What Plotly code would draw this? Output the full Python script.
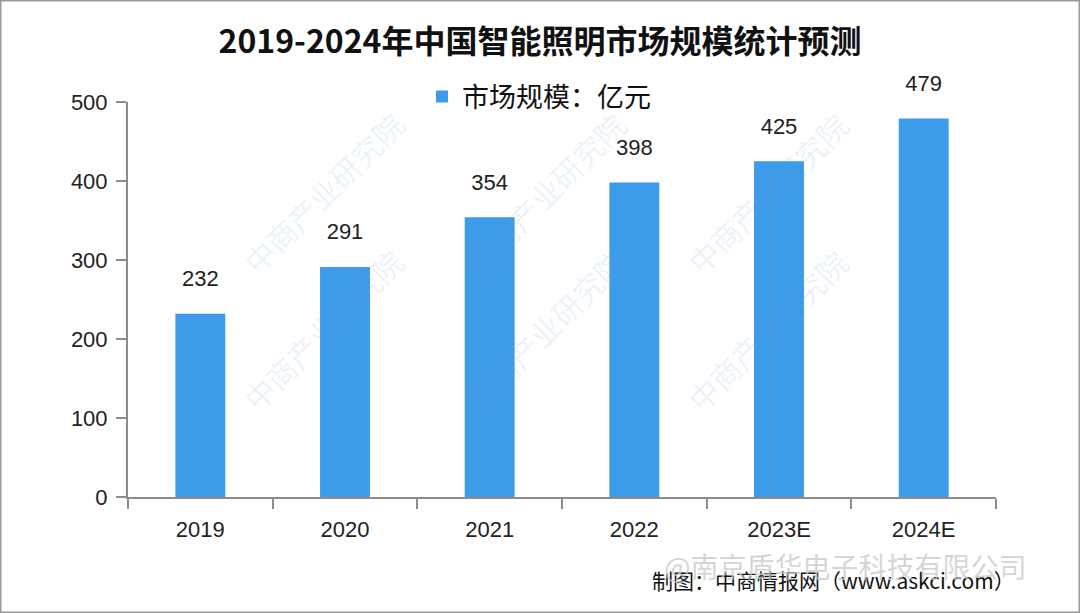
import plotly.graph_objects as go

categories = ["2019", "2020", "2021", "2022", "2023E", "2024E"]
values = [232, 291, 354, 398, 425, 479]
series_name = "市场规模：亿元"
title_text = "2019-2024年中国智能照明市场规模统计预测"
source_text = "制图：中商情报网（www.askci.com）"
overlay_text = "@南京盾华电子科技有限公司"
watermark_text = "中商产业研究院"

BAR_COLOR = "#3D9BE9"
FONT = "Liberation Sans, Noto Sans CJK SC, sans-serif"
CJK = "Noto Sans CJK SC, sans-serif"

PL, PR, PT, PB = 128, 996, 102, 497
PW, PH = PR - PL, PB - PT


def px(x):
    return (x - PL) / PW


def py(y):
    return (PB - y) / PH


fig = go.Figure()
fig.add_trace(go.Bar(
    x=categories, y=values, name=series_name,
    marker=dict(color=BAR_COLOR, line=dict(width=0)),
    width=0.345,
))
# value labels, lifted above the bars by an invisible marker
fig.add_trace(go.Scatter(
    x=categories, y=values, mode="markers+text", showlegend=False,
    marker=dict(size=34, opacity=0), hoverinfo="skip",
    text=[str(v) for v in values], textposition="top center",
    textfont=dict(size=22, color="#222222", family=FONT),
    cliponaxis=False,
))

annotations = []
# faint diagonal watermarks
for (x, y) in [(230, 100), (230, 330), (545, 100), (545, 330), (860, 100), (860, 330)]:
    annotations.append(dict(
        xref="paper", yref="paper", x=px(x), y=py(y),
        text=watermark_text, showarrow=False, textangle=-45,
        font=dict(size=30, color="rgba(90,150,215,0.12)", family=CJK),
    ))

annotations.append(dict(
    xref="paper", yref="paper", x=px(650), y=py(580),
    xanchor="left", yanchor="middle", text=source_text, showarrow=False,
    font=dict(size=21, color="#111111", family=CJK),
))
annotations.append(dict(
    xref="paper", yref="paper", x=px(662), y=py(566),
    xanchor="left", yanchor="middle", text=overlay_text, showarrow=False,
    font=dict(size=28, color="rgba(200,200,200,0.75)", family=CJK),
))

fig.update_layout(
    width=1080, height=613,
    paper_bgcolor="white", plot_bgcolor="white",
    margin=dict(l=PL, r=1080 - PR, t=PT, b=613 - PB, autoexpand=False),
    title=dict(text="<b>" + title_text + "</b>", x=0.5, xanchor="center",
               xref="container",
               y=1 - 42 / 613, yanchor="middle",
               font=dict(size=32, color="#111111", family=CJK)),
    showlegend=True,
    legend=dict(orientation="h", x=px(539), xanchor="center", y=py(97),
                yanchor="middle",
                font=dict(size=27, color="#111111", family=CJK),
                itemwidth=30, bgcolor="rgba(0,0,0,0)"),
    bargap=0.655,
    annotations=annotations,
    shapes=[dict(type="rect", xref="paper", yref="paper",
                 x0=px(0), x1=px(1080), y0=py(613), y1=py(0),
                 line=dict(color="#9a9a9a", width=3))],
)
fig.update_xaxes(
    type="category", categoryorder="array", categoryarray=categories,
    showline=True, linecolor="#8c8c8c", linewidth=2,
    ticks="outside", tickson="boundaries", ticklen=10, tickcolor="#8c8c8c", tickwidth=2,
    ticklabelstandoff=12,
    tickfont=dict(size=22, color="#222222", family=FONT), showgrid=False,
)
fig.update_yaxes(
    range=[0, 500], dtick=100, showline=True, linecolor="#8c8c8c", linewidth=2,
    ticks="outside", ticklen=10, tickcolor="#8c8c8c", tickwidth=2,
    ticklabelstandoff=4,
    tickfont=dict(size=22, color="#222222", family=FONT), showgrid=False,
    zeroline=False,
)

fig.write_html("out.html")
